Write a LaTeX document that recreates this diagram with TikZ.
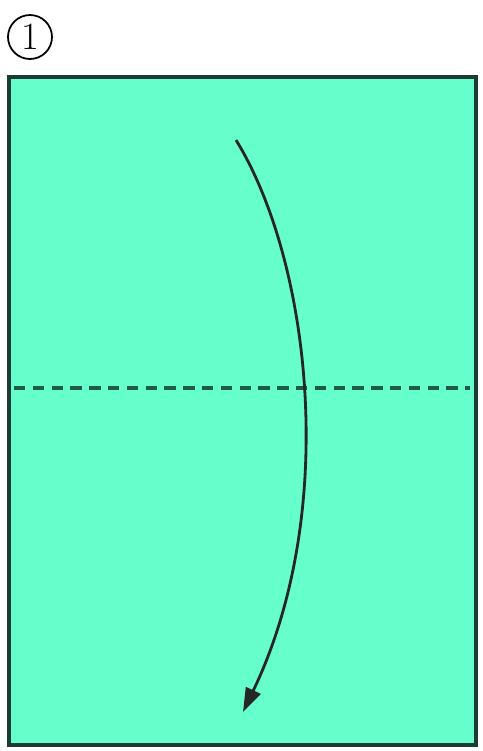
\documentclass[tikz,border=0pt]{standalone}
\usepackage{xcolor}
\usetikzlibrary{arrows.meta}
\definecolor{paper-green}{HTML}{66FFCC}
\definecolor{edge-dark}{HTML}{1C3B34}
\definecolor{fold-dark}{HTML}{1E5A4A}

\begin{document}
\begin{tikzpicture}[x=0.02cm, y=-0.02cm,
        every node/.style={font=\fontsize{22}{22}\selectfont}]
      \useasboundingbox (0,0) rectangle (483,751);
      \node[draw, circle, line width=1pt, minimum size=0.88cm, inner sep=0pt]
        (stepnum) at (30,37) {1};
      \draw[line width=2.2pt, edge-dark, fill=paper-green]
        (9,77) rectangle (476,745);
      \draw[line width=1.8pt, fold-dark, dash pattern=on 6.5pt off 4.2pt]
        (14,388) -- (470,388);
      \coordinate (foldstart) at (236,140);
      \coordinate (foldend) at (243,712);
      \draw[line width=1.6pt, black!85, -{Triangle[length=0.48cm, width=0.32cm]}]
        (foldstart) .. controls (310,260) and (340,510) .. (foldend);
    \end{tikzpicture}
\end{document}
